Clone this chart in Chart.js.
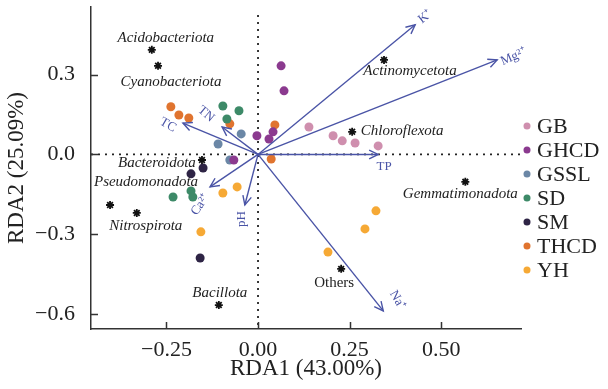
<!DOCTYPE html>
<html>
<head>
<meta charset="utf-8">
<script src="https://cdn.jsdelivr.net/npm/chart.js@4"></script>
<style>
  html, body { margin: 0; padding: 0; background: #fff; }
  #wrap { width: 608px; height: 389px; }
</style>
</head>
<body>
<div id="wrap"><canvas id="rda_plot"></canvas></div>
<script>
// sample groups and their colours
const groups = ["GB", "GHCD", "GSSL", "SD", "SM", "THCD", "YH"];
const group_colors = ["#cf8fae", "#8b3a8f", "#6b87a6", "#3d8a68", "#2e2445", "#e0742f", "#f6a935"];

// sample scores (RDA1, RDA2)
const sample_group = [
  "GB", "GB", "GB", "GB", "GB",
  "GHCD", "GHCD", "GHCD", "GHCD", "GHCD", "GHCD",
  "GSSL", "GSSL", "GSSL",
  "SD", "SD", "SD", "SD", "SD", "SD",
  "SM", "SM", "SM",
  "THCD", "THCD", "THCD", "THCD", "THCD", "THCD",
  "YH", "YH", "YH", "YH", "YH", "YH"
];
const sample_rda1 = [
  0.139, 0.205, 0.230, 0.265, 0.328,
  0.063, 0.071, -0.003, 0.041, 0.030, -0.066,
  -0.046, -0.109, -0.077,
  -0.096, -0.052, -0.085, -0.232, -0.183, -0.178,
  -0.150, -0.183, -0.158,
  -0.238, -0.216, -0.189, -0.077, 0.046, 0.036,
  -0.096, -0.057, -0.156, 0.322, 0.292, 0.191
];
const sample_rda2 = [
  0.103, 0.070, 0.051, 0.043, 0.032,
  0.333, 0.239, 0.070, 0.085, 0.058, -0.021,
  0.077, 0.039, -0.021,
  0.182, 0.164, 0.133, -0.160, -0.137, -0.160,
  -0.051, -0.073, -0.389,
  0.179, 0.148, 0.137, 0.115, 0.111, -0.017,
  -0.145, -0.122, -0.291, -0.212, -0.280, -0.367
];

// phylum scores
const species_names = ["Acidobacteriota", "Cyanobacteriota", "Actinomycetota", "Chloroflexota", "Bacteroidota",
  "Pseudomonadota", "Nitrospirota", "Gemmatimonadota", "Others", "Bacillota"];
const species_rda1 = [-0.290, -0.273, 0.344, 0.257, -0.153, -0.404, -0.331, 0.566, 0.227, -0.107];
const species_rda2 = [0.393, 0.333, 0.355, 0.085, -0.021, -0.190, -0.220, -0.103, -0.430, -0.566];

// environmental factor arrows
const env_names = ["K\u207A", "Mg\u00B2\u207A", "TP", "Na\u207A", "pH", "Ca\u00B2\u207A", "TC", "TN"];
const env_rda1 = [0.429, 0.653, 0.328, 0.342, -0.036, -0.131, -0.205, -0.098];
const env_rda2 = [0.487, 0.355, 0.0, -0.588, -0.190, -0.122, 0.118, 0.103];

// axis ticks
const x_ticks = [-0.25, 0.0, 0.25, 0.50];
const y_ticks = [-0.6, -0.3, 0.0, 0.3];

// label placement (pixels from the point), kept apart from the data
const species_label_shift = [[14, -12], [13, 16], [26, 11], [50, -1], [-45, 3], [36, -23], [9, 13], [-5, 12], [-7, 14], [1, -12]];
const env_label_shift = [[10, -8, -39], [16, -3, -24], [6, 12, 0], [14, -11, 60], [-3, 14, -90], [-10, 18, -56], [-15, 2, 30], [-16, -13, 40]];

const serif = "'Liberation Serif', 'Times New Roman', serif";
const arrow_color = "#4a54a6";

function minus(v, digits) {
  const s = Math.abs(v).toFixed(digits);
  return v < -1e-9 ? "\u2212" + s : s;
}

// build the datasets
const datasets = [];
groups.forEach((g, gi) => {
  const pts = [];
  sample_group.forEach((sg, i) => {
    if (sg === g) pts.push({ x: sample_rda1[i], y: sample_rda2[i] });
  });
  datasets.push({
    label: g,
    data: pts,
    backgroundColor: group_colors[gi],
    borderColor: group_colors[gi],
    borderWidth: 0,
    pointRadius: 4.5,
    order: 3
  });
});

datasets.push({
  label: "species",
  data: species_names.map((n, i) => ({ x: species_rda1[i], y: species_rda2[i] })),
  pointStyle: "star",
  pointRadius: 4,
  borderColor: "#111",
  backgroundColor: "#111",
  borderWidth: 1.8,
  order: 2
});

env_names.forEach((n, i) => {
  datasets.push({
    label: "env_" + i,
    data: [{ x: 0, y: 0 }, { x: env_rda1[i], y: env_rda2[i] }],
    showLine: true,
    borderColor: arrow_color,
    borderWidth: 1.4,
    pointRadius: 0,
    order: 1
  });
});

// dotted zero lines + inward ticks + arrowheads + text labels + legend
const rda_decor = {
  id: "rda_decor",
  beforeDatasetsDraw(chart) {
    const { ctx, chartArea, scales } = chart;
    const x0 = scales.x.getPixelForValue(0);
    const y0 = scales.y.getPixelForValue(0);
    ctx.save();
    ctx.strokeStyle = "#222";
    ctx.lineWidth = 1.8;
    ctx.setLineDash([2, 5]);
    ctx.beginPath();
    ctx.moveTo(x0, chartArea.top + 8);
    ctx.lineTo(x0, chartArea.bottom);
    ctx.moveTo(chartArea.left, y0);
    ctx.lineTo(chartArea.right, y0);
    ctx.stroke();
    ctx.restore();
  },
  afterDatasetsDraw(chart) {
    const { ctx, scales } = chart;
    const x0 = scales.x.getPixelForValue(0);
    const y0 = scales.y.getPixelForValue(0);
    ctx.save();

    // arrow heads and env labels
    env_names.forEach((n, i) => {
      const tx = scales.x.getPixelForValue(env_rda1[i]);
      const ty = scales.y.getPixelForValue(env_rda2[i]);
      const ang = Math.atan2(ty - y0, tx - x0);
      const len = 10, spread = 0.45;
      ctx.strokeStyle = arrow_color;
      ctx.lineWidth = 1.4;
      ctx.beginPath();
      ctx.moveTo(tx - len * Math.cos(ang - spread), ty - len * Math.sin(ang - spread));
      ctx.lineTo(tx, ty);
      ctx.lineTo(tx - len * Math.cos(ang + spread), ty - len * Math.sin(ang + spread));
      ctx.stroke();

      const sh = env_label_shift[i];
      ctx.save();
      ctx.translate(tx + sh[0], ty + sh[1]);
      ctx.rotate(sh[2] * Math.PI / 180);
      ctx.fillStyle = arrow_color;
      ctx.font = "13px " + serif;
      ctx.textAlign = "center";
      ctx.textBaseline = "middle";
      ctx.fillText(n, 0, 0);
      ctx.restore();
    });

    // species labels
    ctx.fillStyle = "#222";
    ctx.textAlign = "center";
    ctx.textBaseline = "middle";
    species_names.forEach((n, i) => {
      const px = scales.x.getPixelForValue(species_rda1[i]);
      const py = scales.y.getPixelForValue(species_rda2[i]);
      const sh = species_label_shift[i];
      ctx.font = (n === "Others" ? "" : "italic ") + "15px " + serif;
      ctx.fillText(n, px + sh[0], py + sh[1]);
    });
    ctx.restore();
  },
  afterDraw(chart) {
    const { ctx, chartArea, scales } = chart;
    ctx.save();
    // inward tick marks
    ctx.strokeStyle = "#333";
    ctx.lineWidth = 1.5;
    ctx.beginPath();
    x_ticks.forEach(v => {
      const p = Math.round(scales.x.getPixelForValue(v)) + 0.5;
      ctx.moveTo(p, chartArea.bottom);
      ctx.lineTo(p, chartArea.bottom - 7);
    });
    y_ticks.forEach(v => {
      const p = Math.round(scales.y.getPixelForValue(v)) + 0.5;
      ctx.moveTo(chartArea.left, p);
      ctx.lineTo(chartArea.left + 7, p);
    });
    ctx.stroke();

    // legend
    ctx.font = "22px " + serif;
    ctx.textAlign = "left";
    ctx.textBaseline = "middle";
    groups.forEach((g, i) => {
      const ly = 126 + i * 24;
      ctx.fillStyle = group_colors[i];
      ctx.beginPath();
      ctx.arc(527, ly, 3.5, 0, Math.PI * 2);
      ctx.fill();
      ctx.fillStyle = "#222";
      ctx.fillText(g, 537, ly + 1);
    });
    ctx.restore();
  }
};

new Chart(document.getElementById("rda_plot"), {
  type: "scatter",
  data: { datasets: datasets },
  options: {
    responsive: true,
    maintainAspectRatio: false,
    animation: false,
    devicePixelRatio: 1,
    layout: { padding: { left: 0, top: 7, right: 87, bottom: 0 } },
    plugins: { legend: { display: false }, tooltip: { enabled: false } },
    scales: {
      x: {
        type: "linear",
        min: -0.456,
        max: 0.718,
        afterBuildTicks: s => { s.ticks = x_ticks.map(v => ({ value: v })); },
        afterFit: s => { s.height = 60; s.paddingLeft = 0; s.paddingRight = 0; },
        grid: { display: false },
        border: { display: true, color: "#333", width: 1.5 },
        ticks: {
          padding: 0,
          color: "#222",
          font: { family: serif, size: 22 },
          callback: v => minus(v, 2)
        },
        title: {
          display: true,
          text: "RDA1 (43.00%)",
          color: "#222",
          font: { family: serif, size: 23 },
          padding: { top: 0, bottom: 6 }
        }
      },
      y: {
        type: "linear",
        min: -0.656,
        max: 0.554,
        afterBuildTicks: s => { s.ticks = y_ticks.map(v => ({ value: v })); },
        afterFit: s => { s.width = 91; s.paddingTop = 0; s.paddingBottom = 0; },
        grid: { display: false },
        border: { display: true, color: "#333", width: 1.5 },
        ticks: {
          padding: 8,
          color: "#222",
          font: { family: serif, size: 22 },
          callback: v => minus(v, 1)
        },
        title: {
          display: true,
          text: "RDA2 (25.09%)",
          color: "#222",
          font: { family: serif, size: 23 },
          padding: { top: 3, bottom: 0 }
        }
      }
    }
  },
  plugins: [rda_decor]
});
</script>
</body>
</html>
